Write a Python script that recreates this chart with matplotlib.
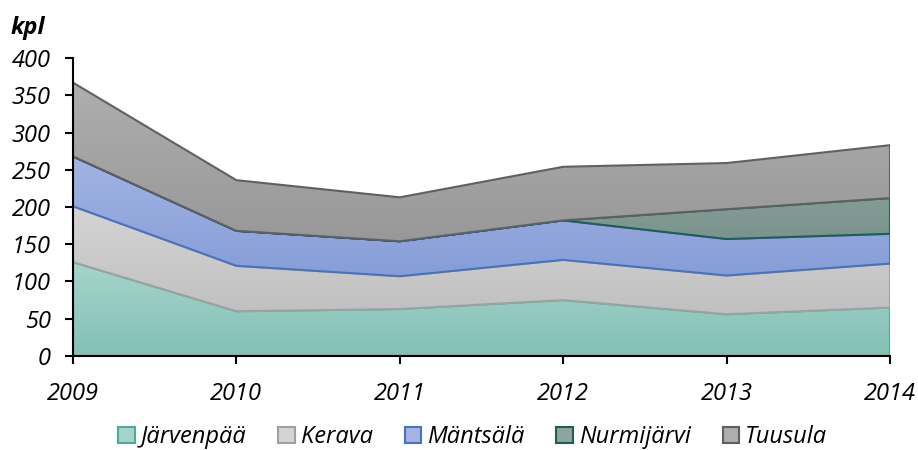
import numpy as np
import matplotlib.pyplot as plt
from matplotlib.colors import LinearSegmentedColormap
from matplotlib.patches import Polygon, Patch

plt.rcParams['font.family'] = ['Open Sans', 'DejaVu Sans']

years = [2009, 2010, 2011, 2012, 2013, 2014]
jarvenpaa = [126, 60, 63, 75, 56, 65]
kerava = [75, 61, 44, 54, 52, 59]
mantsala = [67, 47, 47, 53, 49, 40]
nurmijarvi = [0, 0, 0, 0, 40, 48]
tuusula = [99, 68, 59, 72, 62, 71]

names = ['Järvenpää', 'Kerava', 'Mäntsälä', 'Nurmijärvi', 'Tuusula']
series = [jarvenpaa, kerava, mantsala, nurmijarvi, tuusula]
# (top colour, bottom colour, edge colour)
styles = [('#a6d4cc', '#82c0b5', '#4aab99'),
          ('#d4d4d4', '#c0c0c0', '#a0a0a0'),
          ('#a3b4e3', '#869dd7', '#4472c4'),
          ('#8ea59f', '#7b938d', '#1f5f50'),
          ('#aeaeae', '#989898', '#606060')]

fig = plt.figure(figsize=(9.18, 4.5), dpi=100)
ax = fig.add_axes([0.0795, 0.209, 0.89, 0.662])

x = np.array(years, dtype=float)
bottom = np.zeros(len(years))
handles = []
for i, (name, vals, st) in enumerate(zip(names, series, styles)):
    top = bottom + np.array(vals, dtype=float)
    verts = np.vstack([np.column_stack([x, top]),
                       np.column_stack([x[::-1], bottom[::-1]])])
    poly = Polygon(verts, closed=True, facecolor='none',
                   edgecolor=st[2], linewidth=1.5, zorder=2 + i)
    cmap = LinearSegmentedColormap.from_list(name, [st[1], st[0]])
    grad = np.linspace(0, 1, 256).reshape(-1, 1)
    img = ax.imshow(grad, extent=(x[0], x[-1], bottom.min(), top.max()),
                    origin='lower', aspect='auto', cmap=cmap,
                    zorder=2 + i, interpolation='bilinear')
    ax.add_patch(poly)
    img.set_clip_path(poly)
    handles.append(Patch(facecolor=st[0], edgecolor=st[2], linewidth=1.5,
                         label=name))
    bottom = top

ax.set_xlim(2009, 2014)
ax.set_ylim(0, 400)
ax.set_xticks(years)
ax.set_yticks(range(0, 401, 50))
for s in ['top', 'right']:
    ax.spines[s].set_visible(False)
for s in ['left', 'bottom']:
    ax.spines[s].set_linewidth(1.5)
    ax.spines[s].set_zorder(10)
ax.tick_params(axis='both', direction='out', length=6, width=1.5,
               labelsize=17)
ax.tick_params(axis='x', pad=13)
ax.tick_params(axis='y', pad=10)
for lab in ax.get_xticklabels() + ax.get_yticklabels():
    lab.set_fontstyle('italic')

fig.text(0.012, 0.937, 'kpl', fontsize=17, fontweight='bold',
         fontstyle='italic', va='center')

fig.legend(handles=handles, loc='center', bbox_to_anchor=(0.515, 0.028),
           ncol=5, frameon=False, handlelength=0.7, handleheight=0.7,
           handletextpad=0.25, columnspacing=1.35,
           prop={'size': 17, 'style': 'italic'})

fig.savefig('out.png', dpi=100)
